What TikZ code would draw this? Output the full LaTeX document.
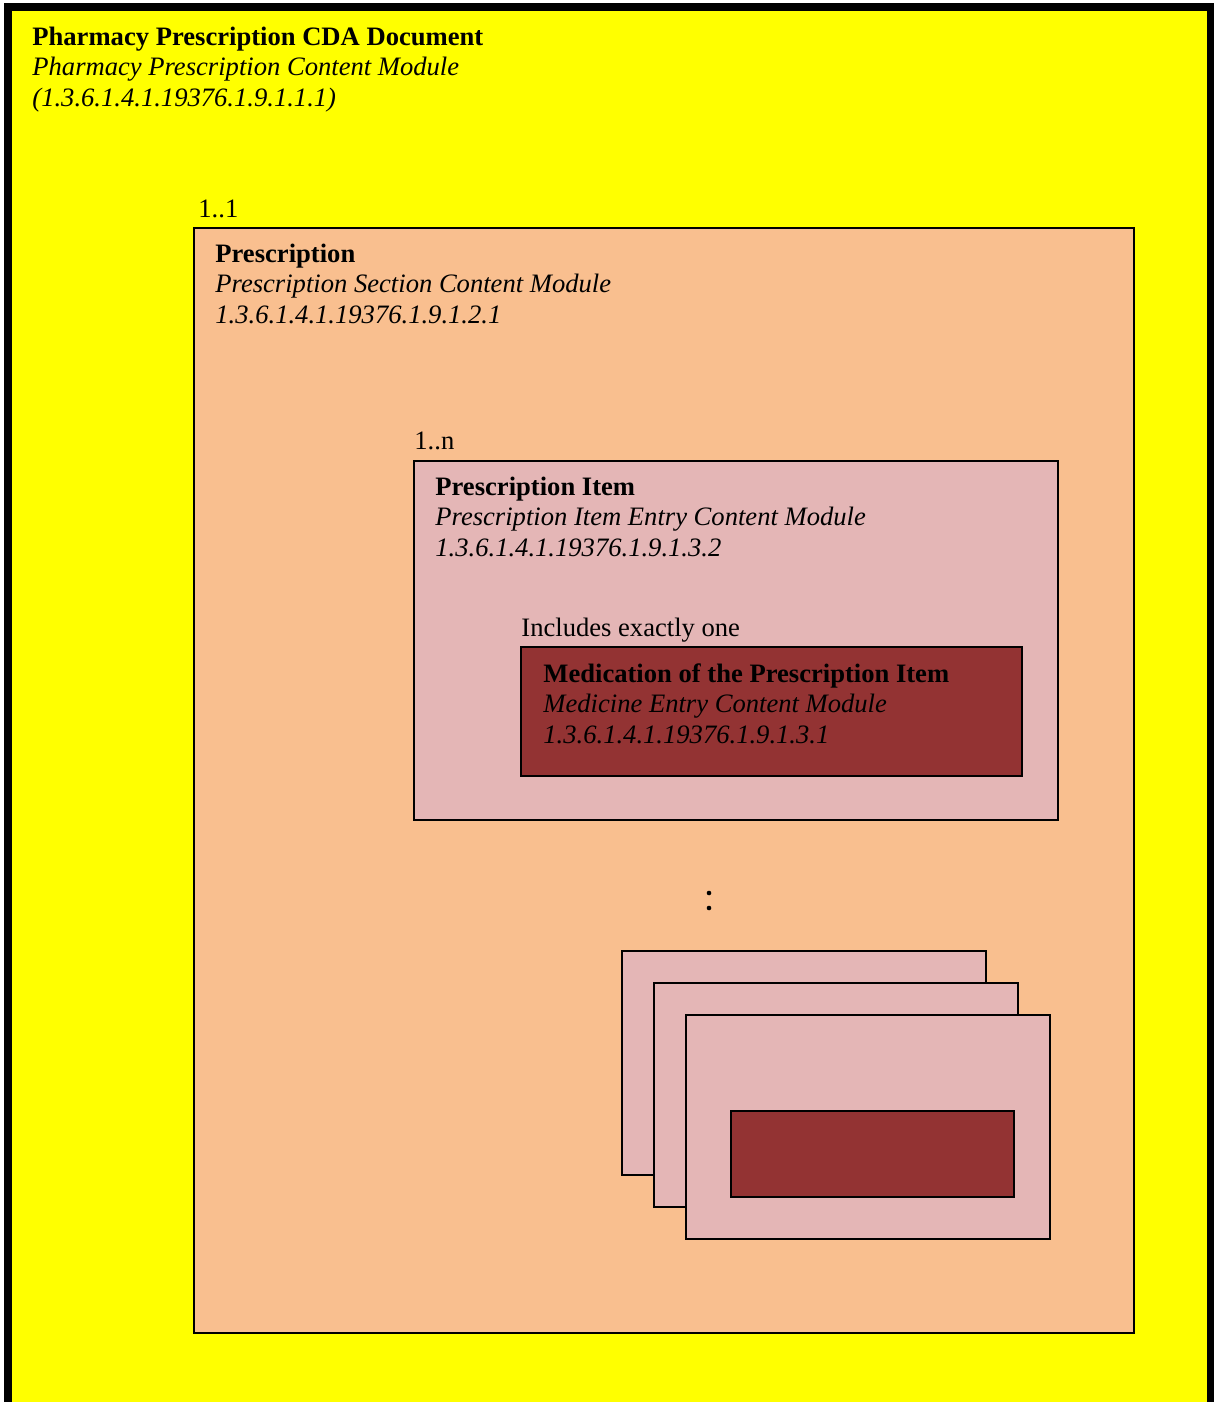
\documentclass[tikz,border=0pt]{standalone}
\usepackage{fontspec}
\setmainfont{Liberation Serif}
\definecolor{docyellow}{RGB}{255,255,0}
\definecolor{secorange}{RGB}{249,191,143}
\definecolor{itempink}{RGB}{228,182,182}
\definecolor{medred}{RGB}{147,51,51}
\tikzset{
  boxline/.style={draw=black, line width=1.3pt},
  lbl/.style={inner sep=0pt, align=left, anchor=base west,
    font=\fontsize{13.3}{15.25}\selectfont},
}
\begin{document}
\begin{tikzpicture}[x=0.5pt, y=-0.5pt]
\useasboundingbox (0,0) rectangle (1214,1402);
\clip (0,0) rectangle (1214,1402);
% outer document
\draw[fill=docyellow, draw=black, line width=4pt] (8,7.5) rectangle (1211,1406);
\node[lbl] (doc) at (32,106) {\textbf{Pharmacy Prescription CDA Document}\\\textit{Pharmacy Prescription Content Module}\\\textit{(1.3.6.1.4.1.19376.1.9.1.1.1)}};
% prescription section
\node[lbl] (card1) at (198,217) {1..1};
\draw[boxline, fill=secorange] (194,228) rectangle (1134,1333);
\node[lbl] (presc) at (215,323) {\textbf{Prescription}\\\textit{Prescription Section Content Module}\\\textit{1.3.6.1.4.1.19376.1.9.1.2.1}};
% prescription item
\node[lbl] (cardn) at (414,449) {1..n};
\draw[boxline, fill=itempink] (414,461) rectangle (1058,820);
\node[lbl] (item) at (435,556) {\textbf{Prescription Item}\\\textit{Prescription Item Entry Content Module}\\\textit{1.3.6.1.4.1.19376.1.9.1.3.2}};
\node[lbl] (incl) at (521,636) {Includes exactly one};
\draw[boxline, fill=medred] (521,647) rectangle (1022,776);
\node[lbl] (med) at (543,743) {\textbf{Medication of the Prescription Item}\\\textit{Medicine Entry Content Module}\\\textit{1.3.6.1.4.1.19376.1.9.1.3.1}};
% ellipsis dots
\fill (709,893) circle (2.3);
\fill (709,908) circle (2.3);
% stacked items
\draw[boxline, fill=itempink] (622,951) rectangle (986,1175);
\draw[boxline, fill=itempink] (654,983) rectangle (1018,1207);
\draw[boxline, fill=itempink] (686,1015) rectangle (1050,1239);
\draw[boxline, fill=medred] (731,1111) rectangle (1014,1197);
\end{tikzpicture}
\end{document}
